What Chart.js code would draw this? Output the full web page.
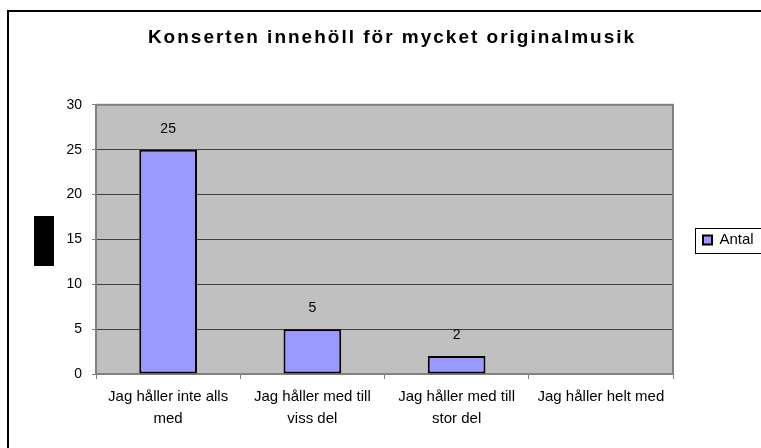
<!DOCTYPE html>
<html>
<head>
<meta charset="utf-8">
<script src="https://cdn.jsdelivr.net/npm/chart.js@4.4.1/dist/chart.umd.min.js"></script>
<style>
    body { margin: 0; background: #fff; overflow: hidden; }
    #wrap { position: absolute; left: 0; top: 0; width: 784px; height: 448px; }
    #frame { position: absolute; left: 7px; top: 10px; width: 900px; height: 900px; border: 2px solid #000; }
    #mask { position: absolute; left: 34px; top: 216px; width: 20px; height: 50px; background: #000; }
</style>
</head>
<body>
<div id="frame"></div>
<div id="wrap"><canvas id="chart"></canvas></div>
<div id="mask"></div>
<script>
// Chart data
const chartTitle = 'Konserten innehöll för mycket originalmusik';
const categories = [
    ['Jag håller inte alls', 'med'],
    ['Jag håller med till', 'viss del'],
    ['Jag håller med till', 'stor del'],
    'Jag håller helt med'
];
const seriesName = 'Antal';
const antal = [25, 5, 2, 0];
const yTicks = [0, 5, 10, 15, 20, 25, 30];

const FONT = "'Liberation Sans', Arial, sans-serif";
const LEGEND_SHIFT = 16;

// gray plot area with a gray frame
const plotArea = {
    id: 'plotArea',
    beforeDraw(chart) {
        const { ctx, chartArea: a } = chart;
        ctx.save();
        ctx.fillStyle = '#C0C0C0';
        ctx.fillRect(a.left, a.top, a.right - a.left, a.bottom - a.top);
        ctx.restore();
    },
    beforeDatasetsDraw(chart) {
        const { ctx, chartArea: a } = chart;
        ctx.save();
        ctx.strokeStyle = '#808080';
        ctx.lineWidth = 2;
        ctx.strokeRect(a.left, a.top, a.right - a.left, a.bottom - a.top);
        ctx.restore();
    }
};

// value labels above the bars
const valueLabels = {
    id: 'valueLabels',
    afterDatasetsDraw(chart) {
        const { ctx } = chart;
        const meta = chart.getDatasetMeta(0);
        ctx.save();
        ctx.font = '14px ' + FONT;
        ctx.fillStyle = '#000';
        ctx.textAlign = 'center';
        ctx.textBaseline = 'middle';
        meta.data.forEach((bar, i) => {
            const v = antal[i];
            if (!v) return;
            ctx.fillText(String(v), bar.x, bar.y - 21);
        });
        ctx.restore();
    }
};

// fixed legend width, boxed legend, spaced title
const tweaks = {
    id: 'tweaks',
    beforeUpdate(chart) {
        const lg = chart.legend;
        if (lg && !lg._patched) {
            const fit = lg.fit;
            lg.fit = function () {
                fit.call(this);
                this.width = 111;
            };
            lg._patched = true;
        }
        const tb = chart.titleBlock;
        if (tb && !tb._patched) {
            const draw = tb.draw;
            tb.draw = function () {
                const ctx = chart.ctx;
                ctx.letterSpacing = '2px';
                draw.apply(this, arguments);
                ctx.letterSpacing = '0px';
            };
            tb._patched = true;
        }
    },
    afterLayout(chart) {
        const lg = chart.legend;
        if (!lg) return;
        lg.top += LEGEND_SHIFT;
        lg.bottom += LEGEND_SHIFT;
    },
    afterDraw(chart) {
        const lg = chart.legend;
        if (!lg || !lg.legendHitBoxes || !lg.legendHitBoxes.length) return;
        const hb = lg.legendHitBoxes[0];
        const cy = hb.top + hb.height / 2;
        const { ctx } = chart;
        ctx.save();
        ctx.strokeStyle = '#000';
        ctx.lineWidth = 1;
        ctx.strokeRect(lg.left + 22.5, Math.round(cy - 12.5) + 0.5, 200, 25);
        ctx.restore();
    }
};

const ctx = document.getElementById('chart').getContext('2d');
new Chart(ctx, {
    type: 'bar',
    data: {
        labels: categories,
        datasets: [{
            label: seriesName,
            data: antal,
            backgroundColor: '#9999FF',
            borderColor: '#000',
            borderWidth: 2,
            borderSkipped: false,
            barPercentage: 0.4,
            categoryPercentage: 1
        }]
    },
    options: {
        responsive: true,
        maintainAspectRatio: false,
        animation: false,
        layout: { padding: 0 },
        plugins: {
            title: {
                display: true,
                text: chartTitle,
                color: '#000',
                font: { family: FONT, size: 19, weight: 'bold' },
                padding: { top: 26, bottom: 56 }
            },
            legend: {
                position: 'right',
                labels: {
                    color: '#000',
                    font: { family: FONT, size: 15 },
                    boxWidth: 9,
                    boxHeight: 9,
                    padding: 30
                }
            },
            tooltip: { enabled: false }
        },
        scales: {
            x: {
                offset: true,
                grid: {
                    offset: true,
                    drawOnChartArea: false,
                    tickLength: 5,
                    tickColor: '#808080'
                },
                border: { color: '#808080', width: 2 },
                ticks: {
                    color: '#000',
                    font: { family: FONT, size: 15, lineHeight: 1.45 },
                    padding: 7,
                    maxRotation: 0,
                    autoSkip: false
                },
                afterFit(axis) { axis.height = 74; }
            },
            y: {
                min: 0,
                max: 30,
                afterBuildTicks(axis) { axis.ticks = yTicks.map(v => ({ value: v })); },
                grid: {
                    color: '#404040',
                    tickColor: '#808080',
                    tickLength: 4
                },
                border: { color: '#808080', width: 2 },
                ticks: {
                    color: '#000',
                    font: { family: FONT, size: 14 },
                    padding: 10
                },
                afterFit(axis) { axis.width = 96; }
            }
        }
    },
    plugins: [plotArea, valueLabels, tweaks]
});
</script>
</body>
</html>
